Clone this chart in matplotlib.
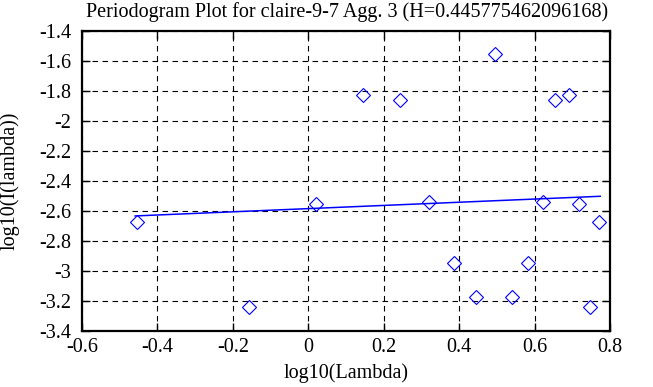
import numpy as np
import matplotlib.pyplot as plt

plt.rcParams['font.family'] = ['Liberation Serif', 'DejaVu Serif']

# periodogram points: log10(lambda) vs log10(I(lambda))
log_lambda = [-0.455, -0.156, 0.020, 0.145, 0.242, 0.321, 0.386, 0.444, 0.496,
              0.541, 0.582, 0.621, 0.655, 0.690, 0.718, 0.746, 0.772]
log_I = [-2.671, -3.242, -2.555, -1.827, -1.862, -2.538, -2.945, -3.175, -1.553,
         -3.175, -2.945, -2.538, -1.862, -1.827, -2.555, -3.242, -2.671]

# fitted line endpoints
fit_x = [-0.459, 0.774]
fit_y = [-2.633, -2.502]

xticks = [-0.6, -0.4, -0.2, 0, 0.2, 0.4, 0.6, 0.8]
yticks = [-3.4, -3.2, -3, -2.8, -2.6, -2.4, -2.2, -2, -1.8, -1.6, -1.4]

fig = plt.figure(figsize=(6.53, 3.87), dpi=100)
ax = fig.add_axes([0.1256, 0.1447, 0.8086, 0.7753])

ax.plot(log_lambda, log_I, linestyle='none', marker='D', markersize=7.3,
        markerfacecolor='none', markeredgecolor='blue', markeredgewidth=0.8)
ax.plot(fit_x, fit_y, color='blue', linewidth=1.1)

ax.set_xlim(-0.6, 0.8)
ax.set_ylim(-3.4, -1.4)
ax.set_xticks(xticks)
ax.set_yticks(yticks)
ax.set_xticklabels([f'{v:g}' for v in xticks])
ax.set_yticklabels([f'{v:g}' for v in yticks])
ax.grid(True, color='black', linestyle=(0, (5, 4)), linewidth=0.8)
ax.tick_params(direction='in', length=6, width=1, top=True, right=True,
               labelsize=14.5)
ax.tick_params(axis='x', pad=5)
ax.tick_params(axis='y', pad=8)
for s in ax.spines.values():
    s.set_linewidth(1.6)

fig.text(0.531, 0.968,
         'Periodogram Plot for claire-9-7 Agg. 3 (H=0.445775462096168)',
         fontsize=14.5, ha='center', va='center')
ax.set_xlabel('log10(Lambda)', fontsize=14.5, va='center')
ax.xaxis.set_label_coords(0.5, -0.14)
ax.set_ylabel('log10(I(lambda))', fontsize=14.5, va='center')
ax.yaxis.set_label_coords(-0.136, 0.5)

fig.savefig('out.png', dpi=100)
